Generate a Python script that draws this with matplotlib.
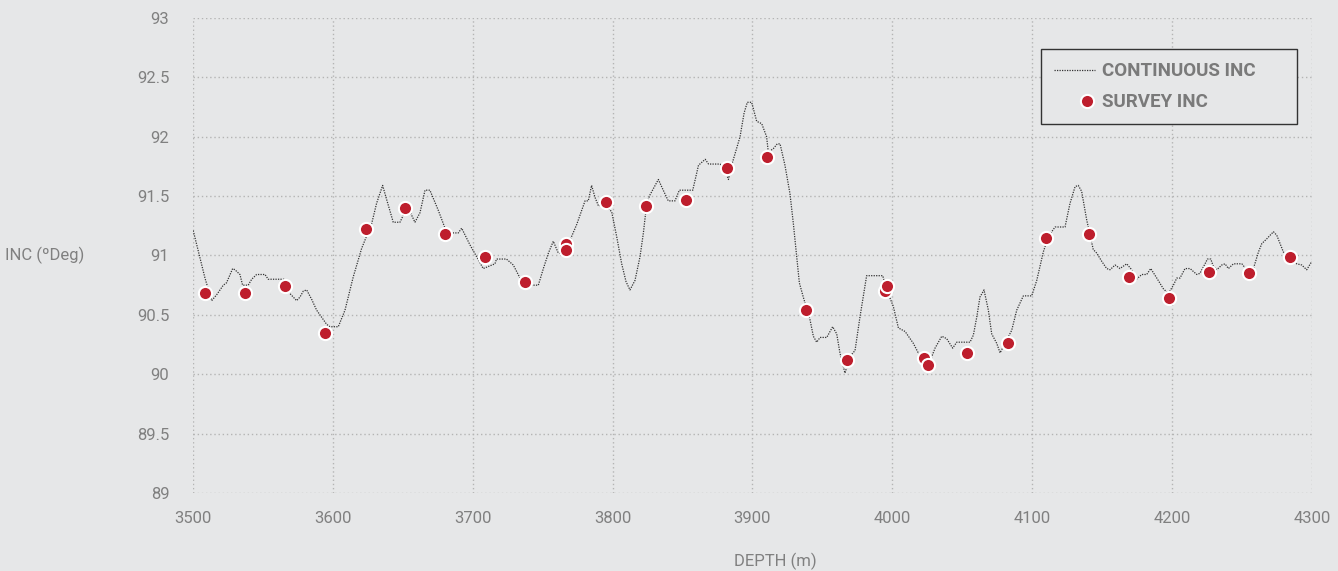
#!/usr/bin/env python3
"""
Continuous inclination vs survey inclination over depth
"""
import matplotlib
matplotlib.use('Agg')
import matplotlib.pyplot as plt
from matplotlib.ticker import FuncFormatter
from matplotlib.legend_handler import HandlerLine2D

# continuous log (depth m, inc deg)
cont_depth = [3500.2, 3508.6, 3513.4, 3517.0, 3521.7, 3524.0, 3528.4, 3530.0, 3533.6, 3535.5,
              3539.5, 3542.0, 3545.5, 3551.5, 3553.8, 3565.8, 3569.3, 3574.1, 3576.5, 3578.9,
              3581.3, 3584.9, 3588.4, 3592.0, 3595.6, 3598.0, 3603.9, 3608.7, 3614.6, 3620.6,
              3627.8, 3631.3, 3635.6, 3638.5, 3643.2, 3648.0, 3650.4, 3655.1, 3658.7, 3662.3,
              3665.9, 3669.4, 3675.4, 3680.2, 3682.5, 3689.7, 3692.1, 3698.0, 3702.8, 3707.5,
              3715.9, 3717.0, 3724.1, 3729.0, 3733.8, 3738.6, 3746.9, 3750.5, 3754.1, 3757.6,
              3761.2, 3764.8, 3770.7, 3774.3, 3777.9, 3780.3, 3782.6, 3785.0, 3787.4, 3789.8,
              3794.6, 3799.3, 3802.9, 3806.5, 3809.6, 3812.4, 3816.0, 3819.6, 3822.0, 3824.4,
              3826.7, 3832.7, 3836.2, 3839.8, 3844.6, 3847.7, 3857.3, 3861.4, 3866.2, 3868.6,
              3876.8, 3880.4, 3882.8, 3885.1, 3891.1, 3894.0, 3896.3, 3899.4, 3903.0, 3906.6,
              3910.1, 3911.3, 3914.9, 3917.7, 3919.7, 3923.2, 3926.8, 3929.2, 3931.6, 3933.5,
              3936.3, 3941.1, 3943.5, 3945.9, 3948.3, 3953.1, 3957.3, 3960.2, 3962.5, 3966.1,
              3969.7, 3973.3, 3976.8, 3981.6, 3993.1, 3996.0, 4000.7, 4004.3, 4009.1, 4015.0,
              4019.8, 4026.9, 4030.5, 4035.3, 4038.8, 4043.1, 4046.0, 4055.5, 4057.9, 4060.3,
              4062.6, 4065.5, 4068.6, 4071.0, 4074.6, 4077.0, 4080.5, 4085.3, 4088.9, 4093.6,
              4099.6, 4103.2, 4107.9, 4111.5, 4116.3, 4123.4, 4127.0, 4130.6, 4132.9, 4135.3,
              4138.9, 4143.6, 4146.1, 4149.7, 4153.2, 4155.6, 4159.2, 4162.7, 4167.5, 4171.1,
              4173.5, 4178.3, 4181.8, 4184.7, 4189.0, 4193.7, 4197.3, 4200.9, 4203.3, 4205.6,
              4209.2, 4212.8, 4217.6, 4219.9, 4223.5, 4225.2, 4227.6, 4229.4, 4231.9, 4235.5,
              4237.8, 4240.2, 4243.8, 4249.8, 4253.3, 4258.1, 4261.7, 4264.1, 4267.6, 4272.4,
              4274.8, 4279.5, 4283.1, 4289.1, 4292.6, 4296.2, 4299.8]
cont_inc = [91.21, 90.81, 90.62, 90.67, 90.75, 90.77, 90.89, 90.88, 90.84, 90.75,
            90.75, 90.80, 90.84, 90.84, 90.80, 90.80, 90.68, 90.62, 90.65, 90.70,
            90.71, 90.63, 90.54, 90.48, 90.42, 90.40, 90.40, 90.54, 90.82, 91.06,
            91.27, 91.44, 91.59, 91.47, 91.28, 91.28, 91.34, 91.37, 91.28, 91.36,
            91.55, 91.55, 91.38, 91.23, 91.19, 91.19, 91.23, 91.09, 90.99, 90.89,
            90.93, 90.97, 90.97, 90.92, 90.81, 90.75, 90.75, 90.89, 91.02, 91.12,
            91.02, 91.02, 91.16, 91.26, 91.38, 91.46, 91.46, 91.59, 91.49, 91.42,
            91.42, 91.37, 91.16, 90.93, 90.78, 90.71, 90.79, 90.99, 91.19, 91.44,
            91.51, 91.64, 91.55, 91.46, 91.46, 91.55, 91.55, 91.76, 91.81, 91.77,
            91.77, 91.72, 91.64, 91.76, 92.00, 92.20, 92.29, 92.29, 92.13, 92.11,
            92.00, 91.87, 91.90, 91.94, 91.94, 91.76, 91.52, 91.27, 90.99, 90.77,
            90.65, 90.46, 90.32, 90.27, 90.31, 90.31, 90.40, 90.34, 90.18, 90.01,
            90.15, 90.20, 90.48, 90.83, 90.83, 90.71, 90.57, 90.39, 90.36, 90.26,
            90.15, 90.11, 90.22, 90.32, 90.30, 90.22, 90.27, 90.27, 90.33, 90.48,
            90.65, 90.71, 90.54, 90.34, 90.26, 90.18, 90.26, 90.37, 90.54, 90.66,
            90.66, 90.79, 91.03, 91.16, 91.24, 91.24, 91.44, 91.58, 91.59, 91.54,
            91.30, 91.05, 91.02, 90.95, 90.89, 90.88, 90.92, 90.89, 90.93, 90.88,
            90.79, 90.84, 90.84, 90.89, 90.81, 90.72, 90.68, 90.75, 90.81, 90.81,
            90.89, 90.89, 90.84, 90.85, 90.93, 90.97, 90.97, 90.91, 90.88, 90.92,
            90.93, 90.89, 90.93, 90.93, 90.88, 90.89, 91.03, 91.10, 91.14, 91.20,
            91.17, 91.03, 90.98, 90.93, 90.92, 90.88, 90.95]

# survey stations
survey_depth = [3508.6, 3537.2, 3565.8, 3594.4, 3623.7, 3651.6, 3680.2, 3708.8, 3737.4, 3766.7,
                3766.7, 3795.3, 3823.9, 3852.5, 3881.8, 3910.4, 3938.2, 3967.6, 3994.7, 3996.1,
                4022.6, 4025.5, 4053.4, 4082.7, 4109.8, 4140.6, 4169.2, 4197.8, 4226.4, 4255.0,
                4284.3]
survey_inc = [90.68, 90.68, 90.74, 90.35, 91.22, 91.40, 91.18, 90.99, 90.78, 91.10,
              91.05, 91.45, 91.42, 91.47, 91.74, 91.83, 90.54, 90.12, 90.70, 90.74,
              90.14, 90.08, 90.18, 90.26, 91.15, 91.18, 90.82, 90.64, 90.86, 90.85,
              90.99]

x_ticks = [3500, 3600, 3700, 3800, 3900, 4000, 4100, 4200, 4300]
y_ticks = [89, 89.5, 90, 90.5, 91, 91.5, 92, 92.5, 93]

BG = '#e6e7e8'
TXT = '#808080'
RED = '#be1e2d'


class MarkerRight(HandlerLine2D):
    # single marker is drawn at the middle of xdata, so shift xdata right
    def get_xdata(self, legend, xdescent, ydescent, width, height, fontsize):
        xdata = [-xdescent + 0.58 * width, -xdescent + width]
        return xdata, [-xdescent + 0.79 * width]


plt.rcParams['font.family'] = ['Roboto', 'DejaVu Sans']

fig = plt.figure(figsize=(13.38, 5.71), dpi=100, facecolor=BG)
ax = fig.add_axes([0.1442, 0.1366, 0.8364, 0.8319], facecolor=BG)

ax.plot(cont_depth, cont_inc, color='#333333', linewidth=0.9, linestyle=(0, (1, 1)),
        label='CONTINUOUS INC', zorder=2)
survey, = ax.plot(survey_depth, survey_inc, linestyle='none', marker='o', markersize=9.5,
                  markerfacecolor=RED, markeredgecolor='white', markeredgewidth=1.5,
                  label='SURVEY INC', zorder=3)

ax.set_xlim(3500, 4300)
ax.set_ylim(89, 93)
ax.set_xticks(x_ticks)
ax.set_yticks(y_ticks)
ax.yaxis.set_major_formatter(FuncFormatter(lambda v, p: f'{v:g}'))
ax.tick_params(length=0, labelsize=12, labelcolor=TXT)
ax.tick_params(axis='y', pad=17)
ax.tick_params(axis='x', pad=13)
for s in ax.spines.values():
    s.set_visible(False)
ax.grid(True, color='#b4b4b4', linestyle=(0, (1, 2)), linewidth=1)
ax.set_axisbelow(True)

ax.set_xlabel('DEPTH (m)', fontsize=12, color=TXT)
ax.xaxis.set_label_coords((775 - 193) / 1119, -0.125)
fig.text(5 / 1338, 1 - 255 / 571, 'INC (ºDeg)', fontsize=12, color=TXT,
         ha='left', va='center')

# legend box stretched to the reference width
leg = ax.legend(loc='upper left', bbox_to_anchor=(0.7578, 0.6, 0.2288, 0.3347),
                mode='expand', frameon=True, fancybox=False, facecolor=BG,
                edgecolor='#333333', framealpha=1, handlelength=2.2,
                handletextpad=0.35, borderpad=0.7, labelspacing=0.7,
                borderaxespad=0, prop={'weight': 'bold', 'size': 13.5},
                handler_map={survey: MarkerRight()})
leg.get_frame().set_linewidth(1)
for t in leg.get_texts():
    t.set_color('#7a7a7a')

fig.savefig('out.png', dpi=100, facecolor=BG)
